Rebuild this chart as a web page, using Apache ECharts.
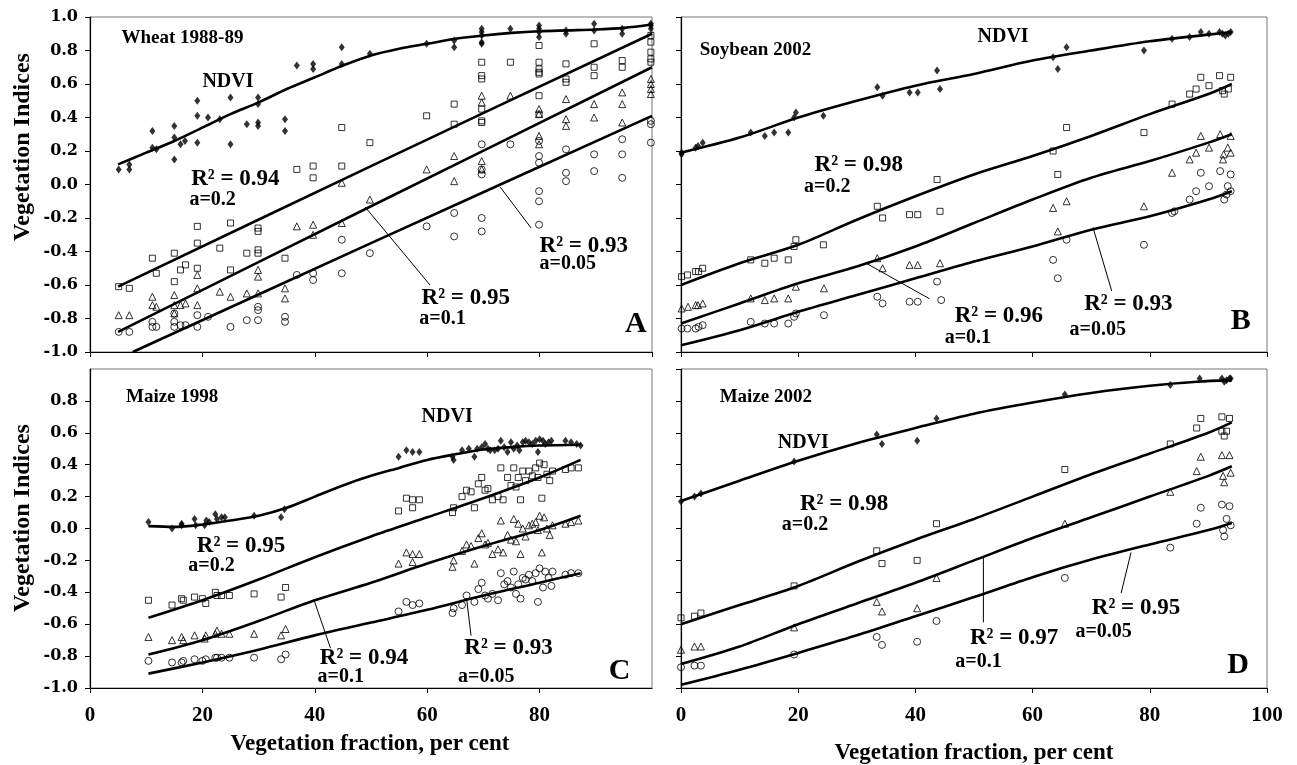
<!DOCTYPE html>
<html>
<head>
<meta charset="utf-8">
<title>Vegetation indices vs vegetation fraction</title>
<script src="https://cdn.jsdelivr.net/npm/echarts@6/dist/echarts.min.js"></script>
<style>
  html, body { margin: 0; padding: 0; background: #fff; }
  #chart { width: 1297px; height: 765px; }
</style>
</head>
<body>
<div id="chart"></div>
<script>
// ---- Wheat 1988-89 (panel A) ----
const wheatNdvi = [[5.1,0.09],[7.0,0.12],[7.0,0.09],[11.1,0.32],[11.1,0.22],[11.8,0.21],[15.0,0.35],[15.0,0.28],[15.0,0.15],[16.1,0.24],[16.9,0.26],[19.1,0.50],[19.1,0.41],[19.1,0.25],[21.0,0.40],[23.1,0.39],[25.0,0.52],[25.0,0.24],[27.9,0.36],[29.9,0.52],[29.9,0.48],[29.9,0.37],[29.9,0.35],[34.7,0.39],[34.7,0.32],[36.8,0.71],[39.7,0.72],[39.7,0.69],[44.8,0.82],[44.8,0.72],[49.8,0.78],[59.9,0.84],[64.8,0.86],[64.8,0.82],[69.7,0.93],[69.7,0.91],[69.7,0.89],[69.7,0.85],[69.7,0.84],[74.8,0.93],[79.9,0.95],[79.9,0.93],[79.9,0.91],[79.9,0.88],[84.7,0.92],[84.7,0.90],[89.7,0.96],[89.7,0.92],[94.7,0.93],[94.7,0.90],[99.8,0.96],[99.8,0.95],[99.8,0.93]];
const wheatA02 = [[5.1,-0.61],[7.0,-0.62],[11.1,-0.44],[11.8,-0.53],[15.0,-0.41],[15.0,-0.58],[16.1,-0.51],[17.0,-0.48],[19.1,-0.25],[19.1,-0.35],[19.1,-0.50],[23.1,-0.38],[25.0,-0.23],[25.0,-0.51],[27.9,-0.41],[29.9,-0.39],[29.9,-0.41],[29.9,-0.26],[29.9,-0.28],[34.7,-0.44],[36.8,0.09],[39.7,0.11],[39.7,0.04],[44.8,0.34],[44.8,0.11],[49.8,0.25],[59.9,0.41],[64.8,0.48],[64.8,0.36],[69.7,0.73],[69.7,0.65],[69.7,0.63],[69.7,0.45],[69.7,0.38],[69.7,0.37],[74.8,0.73],[79.9,0.83],[79.9,0.73],[79.9,0.69],[79.9,0.67],[79.9,0.66],[79.9,0.53],[79.9,0.42],[84.7,0.72],[84.7,0.63],[84.7,0.61],[89.7,0.84],[89.7,0.70],[89.7,0.65],[94.7,0.74],[94.7,0.70],[99.8,0.89],[99.8,0.85],[99.8,0.79],[99.8,0.75],[99.8,0.73]];
const wheatA01 = [[5.1,-0.78],[7.0,-0.78],[11.1,-0.67],[11.1,-0.72],[11.8,-0.73],[15.0,-0.66],[15.0,-0.72],[15.0,-0.77],[16.1,-0.72],[17.0,-0.71],[19.1,-0.54],[19.1,-0.62],[19.1,-0.72],[23.1,-0.64],[25.0,-0.67],[27.9,-0.65],[29.9,-0.51],[29.9,-0.55],[29.9,-0.65],[34.7,-0.62],[34.7,-0.68],[36.8,-0.25],[39.7,-0.24],[39.7,-0.30],[44.8,0.01],[44.8,-0.23],[49.8,-0.09],[59.9,0.09],[64.8,0.17],[64.8,0.02],[69.7,0.53],[69.7,0.49],[69.7,0.14],[69.7,0.09],[74.8,0.53],[79.9,0.45],[79.9,0.42],[79.9,0.29],[79.9,0.24],[84.7,0.51],[84.7,0.39],[84.7,0.35],[89.7,0.48],[89.7,0.40],[94.7,0.55],[94.7,0.48],[94.7,0.37],[99.8,0.63],[99.8,0.60],[99.8,0.57],[99.8,0.54]];
const wheatA005 = [[5.1,-0.88],[7.0,-0.88],[11.1,-0.82],[11.1,-0.85],[11.8,-0.85],[15.0,-0.77],[15.0,-0.82],[15.0,-0.85],[16.1,-0.84],[17.0,-0.84],[19.1,-0.78],[19.1,-0.85],[21.0,-0.79],[25.0,-0.85],[27.9,-0.81],[29.9,-0.73],[29.9,-0.75],[29.9,-0.81],[34.7,-0.79],[34.7,-0.82],[36.8,-0.54],[39.7,-0.53],[39.7,-0.57],[44.8,-0.33],[44.8,-0.53],[49.8,-0.41],[59.9,-0.25],[64.8,-0.17],[64.8,-0.31],[69.7,0.24],[69.7,0.09],[69.7,0.06],[69.7,-0.20],[69.7,-0.28],[74.8,0.24],[79.9,0.26],[79.9,0.17],[79.9,0.13],[79.9,-0.04],[79.9,-0.10],[79.9,-0.24],[84.7,0.21],[84.7,0.07],[84.7,0.02],[89.7,0.18],[89.7,0.08],[94.7,0.27],[94.7,0.18],[94.7,0.04],[99.8,0.38],[99.8,0.36],[99.8,0.25]];
const wheatNdviFit = [[5,0.12],[10,0.19],[15,0.26],[20,0.34],[25,0.42],[30,0.49],[35,0.57],[40,0.64],[45,0.71],[50,0.77],[55,0.81],[60,0.84],[65,0.87],[70,0.89],[75,0.905],[80,0.915],[85,0.92],[90,0.925],[95,0.935],[100,0.955]];
const wheatA02Fit = [[5,-0.61],[50,0.11],[100,0.90]];
const wheatA01Fit = [[5,-0.88],[50,-0.13],[100,0.70]];
const wheatA005Fit = [[7.6,-1.0],[50,-0.35],[100,0.41]];

// ---- Soybean 2002 (panel B) ----
const soyNdvi = [[0.1,0.19],[0.1,0.18],[2.5,0.22],[2.9,0.23],[3.7,0.25],[11.9,0.31],[14.3,0.29],[15.9,0.31],[18.3,0.31],[19.3,0.40],[19.6,0.43],[24.3,0.41],[33.5,0.58],[34.4,0.53],[39.0,0.55],[40.4,0.55],[43.7,0.68],[44.2,0.57],[63.5,0.76],[64.3,0.69],[65.8,0.82],[79.0,0.80],[83.8,0.87],[86.8,0.88],[88.7,0.91],[90.1,0.90],[91.9,0.91],[92.4,0.90],[92.9,0.89],[93.4,0.90],[93.8,0.91]];
const soyA02 = [[0.1,-0.55],[1.1,-0.54],[2.5,-0.52],[3.0,-0.52],[3.7,-0.50],[11.9,-0.45],[14.3,-0.47],[15.9,-0.44],[18.3,-0.45],[19.3,-0.37],[19.6,-0.33],[24.3,-0.36],[33.5,-0.13],[34.4,-0.20],[39.0,-0.18],[40.4,-0.18],[43.7,0.03],[44.2,-0.16],[63.5,0.20],[64.3,0.06],[65.8,0.34],[79.0,0.31],[83.8,0.48],[86.8,0.54],[87.9,0.57],[88.7,0.64],[90.1,0.59],[91.9,0.65],[92.4,0.56],[92.7,0.54],[93.4,0.57],[93.8,0.64]];
const soyA01 = [[0.1,-0.74],[1.2,-0.73],[2.5,-0.72],[2.9,-0.72],[3.7,-0.71],[11.9,-0.68],[14.3,-0.69],[15.9,-0.68],[18.3,-0.68],[19.6,-0.61],[24.4,-0.62],[33.5,-0.44],[34.4,-0.50],[39.0,-0.48],[40.4,-0.48],[44.2,-0.47],[63.5,-0.14],[64.3,-0.28],[65.8,-0.10],[79.0,-0.13],[83.8,0.07],[86.8,0.15],[87.9,0.19],[88.7,0.29],[90.1,0.22],[92.0,0.30],[92.5,0.15],[92.6,0.18],[93.3,0.22],[93.8,0.29],[93.8,0.19]];
const soyA005 = [[0.1,-0.86],[1.1,-0.86],[2.5,-0.86],[3.0,-0.85],[3.7,-0.84],[11.9,-0.82],[14.3,-0.83],[15.9,-0.83],[18.3,-0.83],[19.3,-0.79],[19.6,-0.77],[24.4,-0.78],[33.5,-0.67],[34.4,-0.71],[39.0,-0.70],[40.4,-0.70],[43.7,-0.58],[44.4,-0.69],[63.5,-0.45],[64.3,-0.56],[65.8,-0.33],[79.0,-0.36],[83.8,-0.17],[84.2,-0.16],[86.8,-0.09],[87.9,-0.04],[88.7,0.07],[90.1,-0.01],[92.0,0.08],[92.7,-0.09],[93.1,-0.06],[93.3,-0.01],[93.8,0.06],[93.8,-0.04]];
const soyNdviFit = [[0,0.19],[10,0.28],[20,0.40],[30,0.50],[40,0.59],[50,0.66],[60,0.74],[70,0.80],[80,0.855],[90,0.895],[94,0.91]];
const soyA02Fit = [[0,-0.60],[10,-0.47],[20,-0.36],[30,-0.21],[40,-0.07],[50,0.06],[60,0.17],[70,0.29],[80,0.42],[90,0.54],[94,0.60]];
const soyA01Fit = [[0,-0.83],[10,-0.71],[20,-0.59],[30,-0.49],[40,-0.37],[50,-0.23],[60,-0.09],[70,0.04],[80,0.14],[90,0.25],[94,0.30]];
const soyA005Fit = [[0,-0.96],[10,-0.87],[20,-0.76],[30,-0.66],[40,-0.56],[50,-0.46],[60,-0.37],[70,-0.27],[80,-0.19],[90,-0.09],[94,-0.04]];

// ---- Maize 1998 (panel C) ----
const maize98Ndvi = [[10.4,0.04],[14.6,0.00],[16.3,0.02],[16.3,0.03],[18.6,0.06],[18.8,0.02],[20.4,0.02],[20.7,0.05],[21.2,0.04],[22.3,0.09],[22.6,0.06],[23.4,0.07],[24.0,0.07],[29.2,0.08],[34.0,0.07],[34.6,0.12],[54.9,0.45],[56.3,0.49],[57.4,0.48],[58.6,0.48],[64.5,0.45],[64.7,0.43],[66.2,0.49],[67.4,0.50],[68.4,0.45],[68.9,0.50],[69.7,0.51],[70.3,0.53],[70.8,0.50],[71.2,0.49],[72.0,0.49],[72.6,0.50],[73.1,0.55],[73.7,0.51],[74.3,0.48],[74.9,0.54],[75.4,0.50],[76.0,0.52],[76.4,0.49],[77.0,0.54],[77.5,0.55],[78.1,0.54],[78.7,0.53],[79.3,0.55],[79.7,0.48],[80.0,0.56],[80.6,0.55],[81.0,0.53],[81.6,0.54],[82.1,0.55],[84.6,0.55],[85.6,0.54],[86.6,0.53],[87.3,0.52]];
const maize98A02 = [[10.4,-0.45],[14.6,-0.48],[16.3,-0.44],[16.6,-0.45],[18.6,-0.43],[20.0,-0.44],[20.6,-0.47],[22.3,-0.40],[22.6,-0.42],[23.4,-0.42],[24.8,-0.42],[29.2,-0.41],[34.0,-0.43],[34.8,-0.37],[54.9,0.11],[56.3,0.19],[57.4,0.18],[57.4,0.13],[58.6,0.18],[64.5,0.10],[64.7,0.13],[66.2,0.20],[67.0,0.24],[67.8,0.23],[68.4,0.13],[69.1,0.28],[69.7,0.32],[70.3,0.24],[70.8,0.25],[71.6,0.18],[72.6,0.20],[73.1,0.38],[73.5,0.18],[74.3,0.32],[74.9,0.27],[75.4,0.38],[75.8,0.26],[76.2,0.32],[76.6,0.18],[77.0,0.36],[77.5,0.30],[78.1,0.36],[78.7,0.33],[79.3,0.38],[79.7,0.32],[80.0,0.41],[80.4,0.19],[80.8,0.40],[81.3,0.34],[81.8,0.30],[82.3,0.36],[84.6,0.37],[85.6,0.38],[86.9,0.38]];
const maize98A01 = [[10.4,-0.68],[14.6,-0.70],[16.3,-0.68],[16.6,-0.70],[18.6,-0.67],[20.4,-0.69],[20.6,-0.67],[22.3,-0.66],[22.6,-0.64],[23.4,-0.66],[24.8,-0.66],[29.2,-0.66],[34.0,-0.67],[34.8,-0.63],[54.9,-0.22],[56.3,-0.15],[57.4,-0.16],[57.4,-0.21],[58.6,-0.16],[64.5,-0.24],[64.7,-0.20],[66.2,-0.14],[67.0,-0.10],[67.8,-0.11],[68.4,-0.22],[69.1,-0.06],[69.7,-0.03],[70.3,-0.10],[70.8,-0.09],[71.6,-0.16],[72.6,-0.13],[73.1,0.05],[73.5,-0.15],[74.3,-0.04],[74.9,-0.07],[75.4,0.06],[75.8,-0.08],[76.2,0.03],[76.6,-0.16],[77.0,0.00],[77.5,-0.05],[78.1,0.02],[78.7,0.03],[79.3,0.04],[79.7,-0.01],[80.0,0.08],[80.4,-0.15],[80.8,0.07],[81.3,0.00],[81.8,-0.04],[82.3,0.02],[84.6,0.03],[85.6,0.04],[86.9,0.05]];
const maize98A005 = [[10.4,-0.83],[14.6,-0.84],[16.3,-0.84],[16.6,-0.83],[18.6,-0.82],[20.0,-0.83],[20.6,-0.82],[22.3,-0.81],[22.6,-0.81],[23.4,-0.81],[24.8,-0.81],[29.2,-0.81],[34.0,-0.82],[34.8,-0.79],[54.9,-0.52],[56.3,-0.46],[57.4,-0.48],[58.6,-0.47],[64.5,-0.53],[64.7,-0.50],[66.2,-0.48],[67.0,-0.42],[68.4,-0.46],[69.1,-0.38],[69.7,-0.34],[70.3,-0.42],[70.8,-0.44],[71.6,-0.41],[72.6,-0.45],[73.1,-0.28],[73.7,-0.35],[74.3,-0.33],[74.9,-0.37],[75.4,-0.27],[75.8,-0.41],[76.2,-0.35],[76.6,-0.44],[77.0,-0.31],[77.5,-0.32],[78.1,-0.29],[78.7,-0.33],[79.3,-0.28],[79.7,-0.46],[80.0,-0.25],[80.6,-0.37],[81.0,-0.27],[81.6,-0.31],[82.1,-0.36],[82.3,-0.27],[84.6,-0.29],[85.6,-0.28],[86.9,-0.28]];
const maize98NdviFit = [[10.4,0.015],[15,0.01],[20,0.025],[25,0.05],[30,0.08],[35,0.13],[40,0.20],[45,0.27],[50,0.33],[55,0.38],[60,0.43],[65,0.465],[70,0.495],[75,0.51],[80,0.52],[87.3,0.525]];
const maize98A02Fit = [[10.4,-0.56],[20,-0.45],[30,-0.32],[40,-0.18],[50,-0.05],[60,0.07],[70,0.19],[80,0.32],[87.3,0.43]];
const maize98A01Fit = [[10.4,-0.79],[20,-0.70],[30,-0.58],[40,-0.45],[50,-0.34],[60,-0.22],[70,-0.11],[80,-0.01],[87.3,0.08]];
const maize98A005Fit = [[10.4,-0.91],[20,-0.84],[30,-0.76],[40,-0.67],[50,-0.59],[60,-0.51],[70,-0.42],[80,-0.34],[87.3,-0.28]];

// ---- Maize 2002 (panel D) ----
const maize02Ndvi = [[0,0.17],[2.3,0.20],[3.4,0.22],[19.3,0.42],[33.4,0.59],[34.3,0.53],[40.3,0.55],[43.6,0.69],[65.5,0.84],[83.5,0.90],[88.5,0.94],[92.3,0.94],[92.7,0.92],[93.1,0.93],[93.6,0.94],[93.8,0.94]];
const maize02A02 = [[0,-0.56],[2.3,-0.55],[3.4,-0.53],[19.3,-0.36],[33.4,-0.14],[34.3,-0.22],[40.3,-0.20],[43.6,0.03],[65.5,0.37],[83.5,0.53],[88.0,0.63],[88.7,0.69],[92.3,0.70],[92.3,0.61],[92.7,0.58],[93.1,0.61],[93.6,0.69]];
const maize02A01 = [[0,-0.76],[2.3,-0.74],[3.4,-0.74],[19.3,-0.62],[33.4,-0.46],[34.3,-0.52],[40.3,-0.50],[43.6,-0.31],[65.5,0.03],[83.5,0.23],[88.0,0.36],[88.7,0.45],[92.3,0.46],[92.5,0.33],[92.7,0.29],[93.6,0.46],[93.8,0.35]];
const maize02A005 = [[0,-0.87],[2.3,-0.86],[3.4,-0.86],[19.3,-0.79],[33.4,-0.68],[34.3,-0.73],[40.3,-0.71],[43.6,-0.58],[65.5,-0.31],[83.5,-0.12],[88.0,0.03],[88.7,0.13],[92.3,0.15],[92.5,-0.01],[92.7,-0.05],[93.1,0.06],[93.6,0.14],[93.8,0.02]];
const maize02NdviFit = [[0,0.172],[10,0.30],[20,0.425],[30,0.535],[40,0.63],[50,0.72],[60,0.79],[70,0.85],[80,0.895],[88,0.92],[94,0.93]];
const maize02A02Fit = [[0,-0.60],[10,-0.48],[20,-0.36],[30,-0.21],[40,-0.07],[50,0.06],[60,0.20],[70,0.34],[80,0.47],[90,0.60],[94,0.665]];
const maize02A01Fit = [[0,-0.85],[10,-0.74],[20,-0.60],[30,-0.47],[40,-0.34],[50,-0.20],[60,-0.06],[70,0.07],[80,0.20],[90,0.33],[94,0.39]];
const maize02A005Fit = [[0,-0.98],[10,-0.885],[20,-0.78],[30,-0.67],[40,-0.55],[50,-0.43],[60,-0.305],[70,-0.195],[80,-0.10],[90,-0.01],[94,0.035]];

// axis ticks
const xTicks = { min: 0, max: 100, step: 20 };
const yTicks = { min: -1, max: 1, step: 0.2 };

const SERIF = '"Liberation Serif", "Times New Roman", serif';
const TICKFONT = '"DejaVu Serif", serif';

const chart = echarts.init(document.getElementById('chart'));

const grids = [
  { left: 90, top: 17, width: 562, height: 335 },
  { left: 681, top: 17, width: 586, height: 335 },
  { left: 90, top: 369, width: 562, height: 319 },
  { left: 681, top: 369, width: 586, height: 319 }
].map(g => Object.assign(g, { show: true, borderColor: '#777', borderWidth: 1 }));

function xAxis(gi, showLabel) {
  return {
    type: 'value', gridIndex: gi, min: xTicks.min, max: xTicks.max, interval: xTicks.step,
    axisLine: { show: true, onZero: false, lineStyle: { color: '#000', width: 1.2 } },
    axisTick: { show: true, length: 5, lineStyle: { color: '#000' } },
    axisLabel: {
      show: showLabel, showMaxLabel: gi === 3, margin: 17,
      fontFamily: SERIF, fontWeight: 'bold', fontSize: 21, color: '#000'
    },
    splitLine: { show: false }
  };
}
function yAxis(gi, showLabel) {
  return {
    type: 'value', gridIndex: gi, min: yTicks.min, max: yTicks.max, interval: yTicks.step,
    axisLine: { show: true, onZero: false, lineStyle: { color: '#000', width: 1.2 } },
    axisTick: { show: true, length: 5, lineStyle: { color: '#000' } },
    axisLabel: {
      show: showLabel, showMaxLabel: gi === 0, margin: 12,
      fontFamily: TICKFONT, fontWeight: 'bold', fontSize: 16, color: '#000',
      formatter: v => v.toFixed(1)
    },
    splitLine: { show: false }
  };
}

function points(gi, data, symbol, size, filled) {
  return {
    type: 'scatter', xAxisIndex: gi, yAxisIndex: gi, data: data,
    symbol: symbol, symbolSize: size, silent: true, z: 2,
    itemStyle: filled
      ? { color: '#000' }
      : { color: 'rgba(255,255,255,0)', borderColor: '#000', borderWidth: 1 }
  };
}
function fitLine(gi, data) {
  return {
    type: 'line', xAxisIndex: gi, yAxisIndex: gi, data: data,
    smooth: 0.3, showSymbol: false, silent: true, z: 3,
    lineStyle: { color: '#000', width: 2.6 }
  };
}

const panels = [
  [wheatNdvi, wheatA02, wheatA01, wheatA005, wheatNdviFit, wheatA02Fit, wheatA01Fit, wheatA005Fit],
  [soyNdvi, soyA02, soyA01, soyA005, soyNdviFit, soyA02Fit, soyA01Fit, soyA005Fit],
  [maize98Ndvi, maize98A02, maize98A01, maize98A005, maize98NdviFit, maize98A02Fit, maize98A01Fit, maize98A005Fit],
  [maize02Ndvi, maize02A02, maize02A01, maize02A005, maize02NdviFit, maize02A02Fit, maize02A01Fit, maize02A005Fit]
];

const series = [];
panels.forEach((p, gi) => {
  series.push(points(gi, p[0], 'diamond', [6, 8], true));
  series.push(points(gi, p[1], 'rect', 6, false));
  series.push(points(gi, p[2], 'triangle', 7, false));
  series.push(points(gi, p[3], 'circle', 7, false));
  for (let k = 4; k < 8; k++) series.push(fitLine(gi, p[k]));
});

chart.setOption({
  animation: false,
  backgroundColor: '#fff',
  grid: grids,
  xAxis: [xAxis(0, false), xAxis(1, false), xAxis(2, true), xAxis(3, true)],
  yAxis: [yAxis(0, true), yAxis(1, false), yAxis(2, true), yAxis(3, false)],
  series: series
});

// ---- annotations (text placed at data coordinates) ----
const notes = [
  { gi: 0, crop: 'Wheat 1988-89', cropAt: [5.6, 0.875], ndviAt: [20, 0.61], letter: 'A', letterAt: [95.2, -0.835],
    fits: [['0.94', '0.2', [18, 0.03], [17.7, -0.09]], ['0.95', '0.1', [59, -0.68], [58.6, -0.80]], ['0.93', '0.05', [80, -0.37], [80, -0.475]]],
    leaders: [[[49, -0.136], [60.5, -0.6]], [[73, -0.016], [78.5, -0.26]]] },
  { gi: 1, crop: 'Soybean 2002', cropAt: [3.2, 0.80], ndviAt: [50.6, 0.884], letter: 'B', letterAt: [93.8, -0.816],
    fits: [['0.98', '0.2', [22.8, 0.114], [21, -0.016]], ['0.96', '0.1', [46.7, -0.786], [45, -0.916]], ['0.93', '0.05', [68.8, -0.716], [66.3, -0.866]]],
    leaders: [[[31.4, -0.466], [42.4, -0.682]], [[70.3, -0.256], [73.5, -0.636]]] },
  { gi: 2, crop: 'Maize 1998', cropAt: [6.4, 0.823], ndviAt: [59, 0.70], letter: 'C', letterAt: [92.3, -0.898],
    fits: [['0.95', '0.2', [19, -0.111], [17.5, -0.237]], ['0.94', '0.1', [40.9, -0.814], [40.5, -0.93]], ['0.93', '0.05', [66.6, -0.751], [65.5, -0.93]]],
    leaders: [[[39.8, -0.443], [42.8, -0.751]], [[67, -0.437], [67.8, -0.672]]] },
  { gi: 3, crop: 'Maize 2002', cropAt: [6.6, 0.823], ndviAt: [16.5, 0.539], letter: 'D', letterAt: [93.2, -0.856],
    fits: [['0.98', '0.2', [20.3, 0.151], [17.2, 0.025]], ['0.97', '0.1', [49.3, -0.688], [46.8, -0.835]], ['0.95', '0.05', [70.1, -0.5], [67.3, -0.646]]],
    leaders: [[[51.6, -0.185], [51.6, -0.588]], [[76.8, -0.15], [75.1, -0.405]]] }
];

function px(gi, p) { return chart.convertToPixel({ gridIndex: gi }, p); }
function label(pos, text, size) {
  return { type: 'text', x: pos[0], y: pos[1], z: 10, silent: true,
    style: { text: text, fill: '#000', font: 'bold ' + size + 'px ' + SERIF, textAlign: 'left', textVerticalAlign: 'middle' } };
}

const graphics = [];
notes.forEach(n => {
  graphics.push(label(px(n.gi, n.cropAt), n.crop, 19));
  graphics.push(label(px(n.gi, n.ndviAt), 'NDVI', 20));
  graphics.push(label(px(n.gi, n.letterAt), n.letter, 30));
  n.fits.forEach(f => {
    graphics.push(label(px(n.gi, f[2]), 'R\u00B2 = ' + f[0], 23));
    graphics.push(label(px(n.gi, f[3]), 'a=' + f[1], 20));
  });
  n.leaders.forEach(l => {
    const a = px(n.gi, l[0]), b = px(n.gi, l[1]);
    graphics.push({ type: 'line', z: 10, silent: true,
      shape: { x1: a[0], y1: a[1], x2: b[0], y2: b[1] }, style: { stroke: '#000', lineWidth: 1 } });
  });
});

// axis titles
graphics.push({ type: 'text', x: 23, y: 147, rotation: Math.PI / 2, silent: true,
  style: { text: 'Vegetation Indices', fill: '#000', font: 'bold 24px ' + SERIF, textAlign: 'center', textVerticalAlign: 'middle' } });
graphics.push({ type: 'text', x: 23, y: 518, rotation: Math.PI / 2, silent: true,
  style: { text: 'Vegetation Indices', fill: '#000', font: 'bold 24px ' + SERIF, textAlign: 'center', textVerticalAlign: 'middle' } });
graphics.push({ type: 'text', x: 370, y: 744, silent: true,
  style: { text: 'Vegetation fraction, per cent', fill: '#000', font: 'bold 23px ' + SERIF, textAlign: 'center', textVerticalAlign: 'middle' } });
graphics.push({ type: 'text', x: 974, y: 753, silent: true,
  style: { text: 'Vegetation fraction, per cent', fill: '#000', font: 'bold 23px ' + SERIF, textAlign: 'center', textVerticalAlign: 'middle' } });

chart.setOption({ graphic: graphics });
</script>
</body>
</html>
